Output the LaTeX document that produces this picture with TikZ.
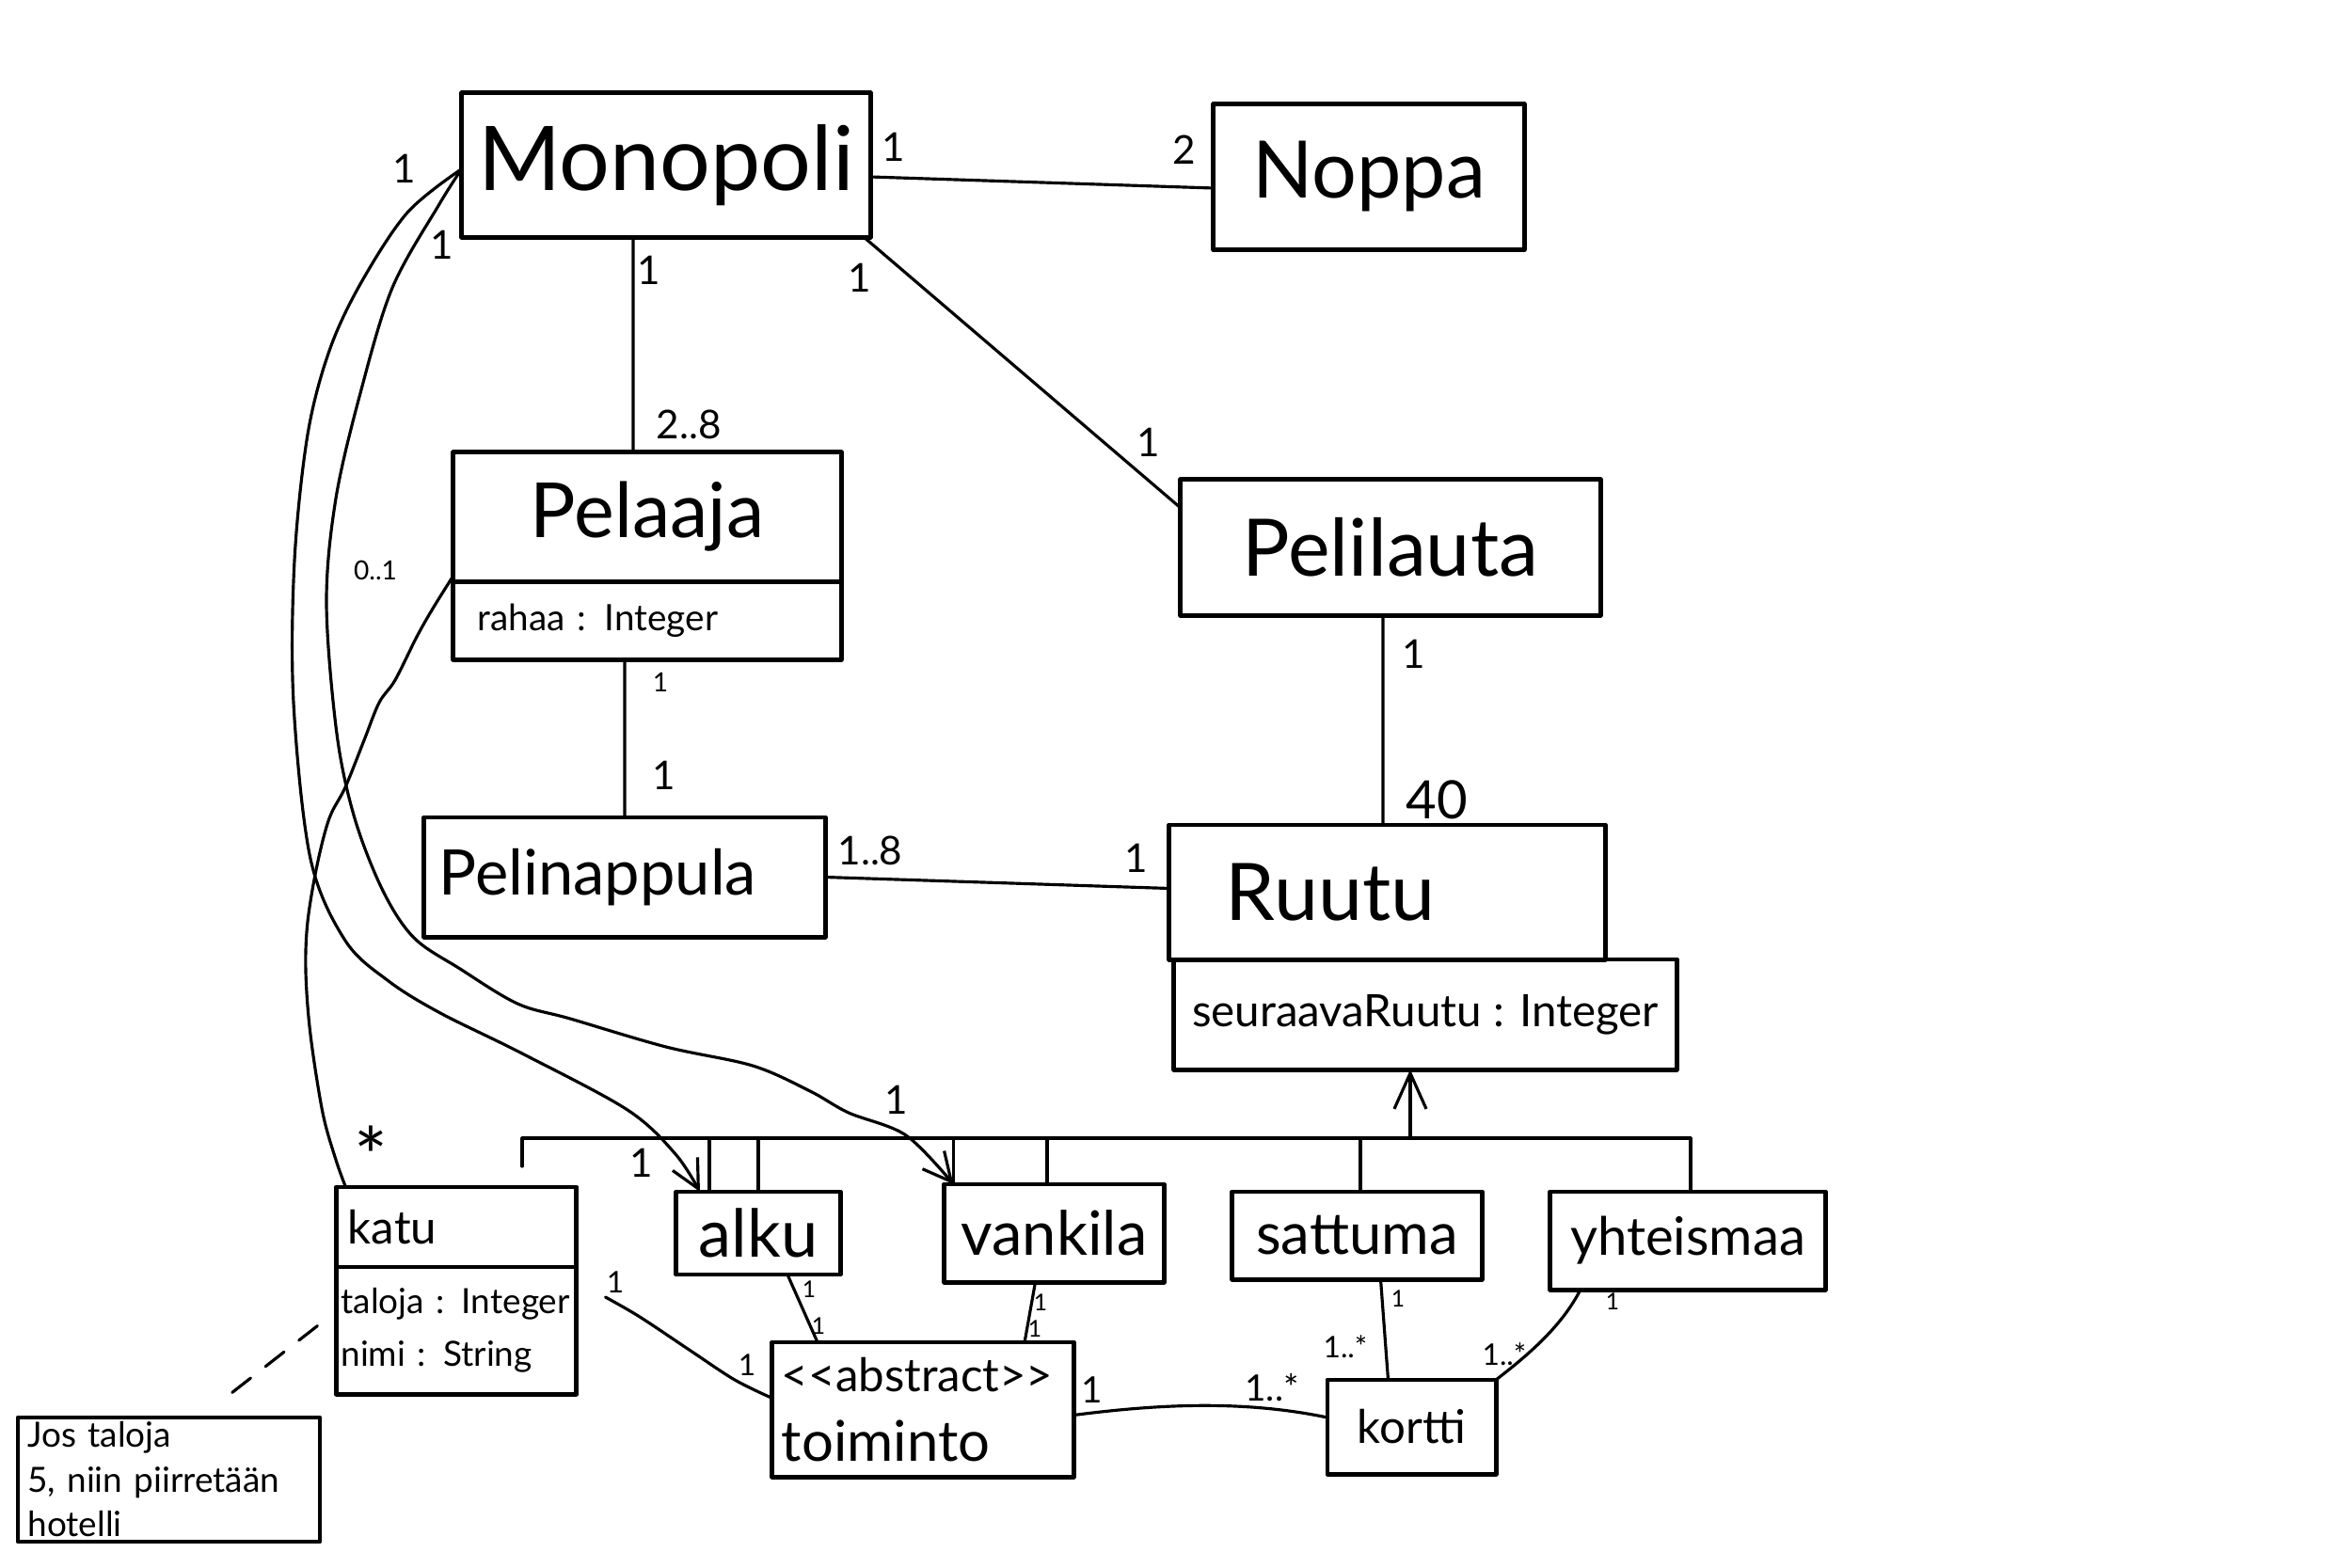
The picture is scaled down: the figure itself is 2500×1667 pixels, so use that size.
\documentclass[tikz,border=0pt]{standalone}
\usepackage{fontspec}
\setmainfont{Lato}
\usetikzlibrary{arrows.meta}
\newcommand{\fsz}[1]{\fontsize{#1}{#1}\selectfont}
\begin{document}
\begin{tikzpicture}[x=0.01cm,y=-0.01cm,
 box/.style={draw, line width=1.4pt, inner sep=0pt, outer sep=0pt, line join=round},
 conn/.style={line width=0.9pt, line cap=round, line join=round},
 mult/.style={font=\fsz{12}, inner sep=0pt},
 smult/.style={font=\fsz{8}, inner sep=0pt},
 tmult/.style={font=\fsz{7}, inner sep=0pt},
 barb/.style={-{Straight Barb[length=0.3cm,width=0.3cm]}},
]
\useasboundingbox[fill=white] (0,0) rectangle (2500,1667);

% ---- class boxes ----
\node[box, minimum width=4.34cm, minimum height=1.53cm, font=\fsz{27}] (mono) at (708,175.5) {Monopoli};
\node[box, minimum width=3.30cm, minimum height=1.55cm, font=\fsz{24}] (noppa) at (1455,188) {Noppa};
\node[box, minimum width=4.12cm, minimum height=1.37cm, font=\fsz{23}] (pn) at (688,549.5) {Pelaaja};
\node[box, anchor=north, minimum width=4.12cm, minimum height=0.83cm, text width=3.6cm, align=left, font=\fsz{11}] (pa) at (pn.south) {rahaa : Integer};
\node[box, minimum width=4.46cm, minimum height=1.44cm, font=\fsz{24}] (pl) at (1478,582) {Pelilauta};
\node[box, minimum width=4.26cm, minimum height=1.27cm, text width=3.94cm, align=left, font=\fsz{19}] (pp) at (664,932.5) {Pelinappula};
\node[box, minimum width=4.63cm, minimum height=1.43cm, text width=3.43cm, align=left, font=\fsz{24}] (rn) at (1474.5,948.5) {Ruutu};
\node[box, minimum width=5.34cm, minimum height=1.17cm, font=\fsz{13.5}] (ra) at (1515,1078.5) {seuraavaRuutu : Integer};
\node[box, minimum width=2.55cm, minimum height=0.85cm, text width=2.3cm, align=left, font=\fsz{14}] (kn) at (485,1304.5) {katu};
\node[box, anchor=north, minimum width=2.55cm, minimum height=1.35cm, text width=2.45cm, align=left, font=\fontsize{10.5}{16}\selectfont] (ka) at (kn.south) {taloja : Integer\\nimi : String};
\node[box, minimum width=1.74cm, minimum height=0.88cm, font=\fsz{20}] (alku) at (806,1311) {alku};
\node[box, minimum width=2.33cm, minimum height=1.04cm, font=\fsz{18.5}] (vank) at (1120.5,1311) {vankila};
\node[box, minimum width=2.65cm, minimum height=0.93cm, font=\fsz{17.5}] (satt) at (1442.5,1313.5) {sattuma};
\node[box, minimum width=2.92cm, minimum height=1.04cm, font=\fsz{16}] (yht) at (1794,1319) {yhteismaa};
\node[box, minimum width=3.20cm, minimum height=1.43cm, text width=3.0cm, align=left, font=\fontsize{14}{19}\selectfont] (toim) at (981,1498.5) {\textless\kern0pt\textless abstract\textgreater\kern0pt\textgreater\\[2pt]{\fsz{17}toiminto}};
\node[box, minimum width=1.79cm, minimum height=1.00cm, font=\fsz{14}] (kort) at (1500.5,1517) {kortti};
\node[box, line width=1.2pt, minimum width=3.21cm, minimum height=1.32cm, text width=3.0cm, align=left, font=\fontsize{10.5}{13.5}\selectfont] (note) at (179.5,1573) {Jos taloja\\5, niin piirretään\\hotelli};

% ---- associations ----
\draw[conn] ([yshift=-0.125cm]mono.east) -- ([yshift=-0.12cm]noppa.west);
\node[mult] (m1) at (950,156) {1};
\node[mult] (m2) at (1259,159) {2};

\draw[conn] ([xshift=-0.35cm]mono.south) -- ([xshift=-0.15cm]pn.north);
\node[mult] (m3) at (690,287) {1};
\node[mult, anchor=west] (m4) at (697,451) {2..8};

\draw[conn] ([xshift=-0.07cm]mono.south east) -- ([yshift=-0.3cm]pl.north west);
\node[mult] (m5) at (914,295) {1};
\node[mult] (m6) at (1221,470) {1};

\draw[conn] ([xshift=-0.24cm]pa.south) -- (pp.north);
\node[smult] (m7) at (702,725) {1};
\node[mult] (m8) at (706,824) {1};

\draw[conn] (pp.east) -- ([yshift=0.04cm]rn.west);
\node[mult] (m9) at (925,904) {1..8};
\node[mult] (m10) at (1208,912) {1};

\draw[conn] ([xshift=-0.08cm]pl.south) -- ([xshift=-0.045cm]rn.north);
\node[mult] (m11) at (1503,695) {1};
\node[font=\fsz{16}, inner sep=0pt] (m12) at (1527,850) {40};

% ---- generalization bus ----
\coordinate (busL) at (555,1210);
\coordinate (busR) at (1797,1210);
\coordinate (katustub) at (555,1240);
\draw[conn] (katustub) -- (busL) -- (busR) -- (busR |- yht.north);
\draw[conn] (busL -| alku.north) -- (alku.north);
\coordinate (vtop) at ([xshift=-0.075cm]vank.north);
\draw[conn] (vtop |- busL) -- (vtop);
\coordinate (stop) at ([xshift=0.035cm]satt.north);
\draw[conn] (stop |- busL) -- (stop);
\coordinate (rb) at ([xshift=-0.16cm]ra.south);
\draw[conn, -{Straight Barb[length=0.38cm,width=0.34cm]}] (rb |- busL) -- (rb);

% ---- Monopoli to alku / vankila ----
\coordinate (mstart) at ([yshift=-0.04cm]mono.west);
\coordinate (alkutip) at ([xshift=-0.62cm]alku.north);
\coordinate (vanktip) at ([xshift=-1.07cm]vank.north);
\draw[conn, barb] plot[smooth, tension=0.55] coordinates {(mstart) (433,226) (383,302) (350,373) (327,462) (313,596) (312,747) (330,913) (367,1000) (413,1043) (468,1077) (555,1120) (667,1180) (718,1227) (alkutip)};
\draw[conn, barb] plot[smooth, tension=0.55] coordinates {(mstart) (467,217) (417,306) (383,418) (357,530) (347,641) (358,780) (377,870) (407,947) (440,997) (489,1030) (550,1067) (606,1083) (708,1113) (800,1133) (861,1160) (902,1183) (963,1207) (vanktip)};
\draw[conn] ([xshift=0.1cm]alkutip |- busL) -- ([xshift=0.1cm]alkutip);
\draw[conn] (vanktip |- busL) -- (vanktip);
\node[mult] (m13) at (430,179) {1};
\node[mult] (m14) at (470,260) {1};
\node[mult] (m15) at (682,1236) {1};
\node[mult] (m16) at (953,1169) {1};

% ---- Pelaaja to katu ----
\coordinate (pstart) at ([yshift=0.06cm]pn.south west);
\coordinate (kend) at ([xshift=0.1cm]kn.north west);
\draw[conn] plot[smooth, tension=0.55] coordinates {(pstart) (460,647) (443,677) (420,723) (403,747) (387,787) (367,837) (350,870) (337,920) (327,980) (325,1033) (330,1100) (343,1183) (357,1233) (kend)};
\node[smult] (m17) at (399,606) {0..1};
\node[font=\fsz{24}, inner sep=0pt, anchor=north] (m18) at (394,1196) {*};

% ---- toiminto associations ----
\coordinate (kstart) at ([xshift=0.31cm,yshift=0.355cm]ka.east);
\coordinate (tin) at ([yshift=0.12cm]toim.west);
\draw[conn] plot[smooth, tension=0.55] coordinates {(kstart) (680,1400) (734,1436) (781,1467) (tin)};
\node[font=\fsz{9}, inner sep=0pt] (m19) at (654,1363) {1};
\node[font=\fsz{9}, inner sep=0pt] (m20) at (794,1451) {1};

\draw[conn] ([xshift=0.31cm]alku.south) -- ([xshift=-1.12cm]toim.north);
\node[tmult] (m21) at (860,1371) {1};
\node[tmult] (m22) at (870,1410) {1};

\draw[conn] ([xshift=-0.2cm]vank.south) -- ([xshift=1.08cm]toim.north);
\node[tmult] (m23) at (1106,1385) {1};
\node[tmult] (m24) at (1100,1413) {1};

\draw[conn] ([yshift=-0.06cm]toim.east) .. controls (1230,1493) and (1320,1488) .. ([yshift=0.1cm]kort.west);
\node[font=\fsz{11}, inner sep=0pt] (m25) at (1161,1478) {1};
\node[font=\fsz{11}, inner sep=0pt] (m26) at (1352,1475) {1..*};

\draw[conn] ([xshift=0.25cm]satt.south) -- ([xshift=-0.25cm]kort.north);
\node[tmult] (m27) at (1486,1381) {1};
\node[font=\fsz{9}, inner sep=0pt] (m28) at (1430,1432) {1..*};

\coordinate (ys) at ([xshift=0.32cm]yht.south west);
\draw[conn] (ys) .. controls (1660,1410) and (1625,1440) .. (kort.north east);
\node[tmult] (m29) at (1714,1384) {1};
\node[font=\fsz{9}, inner sep=0pt] (m30) at (1599,1440) {1..*};

% ---- note ----
\draw[conn, dash pattern=on 0.25cm off 0.2cm] ([xshift=-0.2cm,yshift=0.05cm]ka.west) -- ([xshift=-1.08cm,yshift=0.15cm]note.north east);
\end{tikzpicture}
\end{document}
